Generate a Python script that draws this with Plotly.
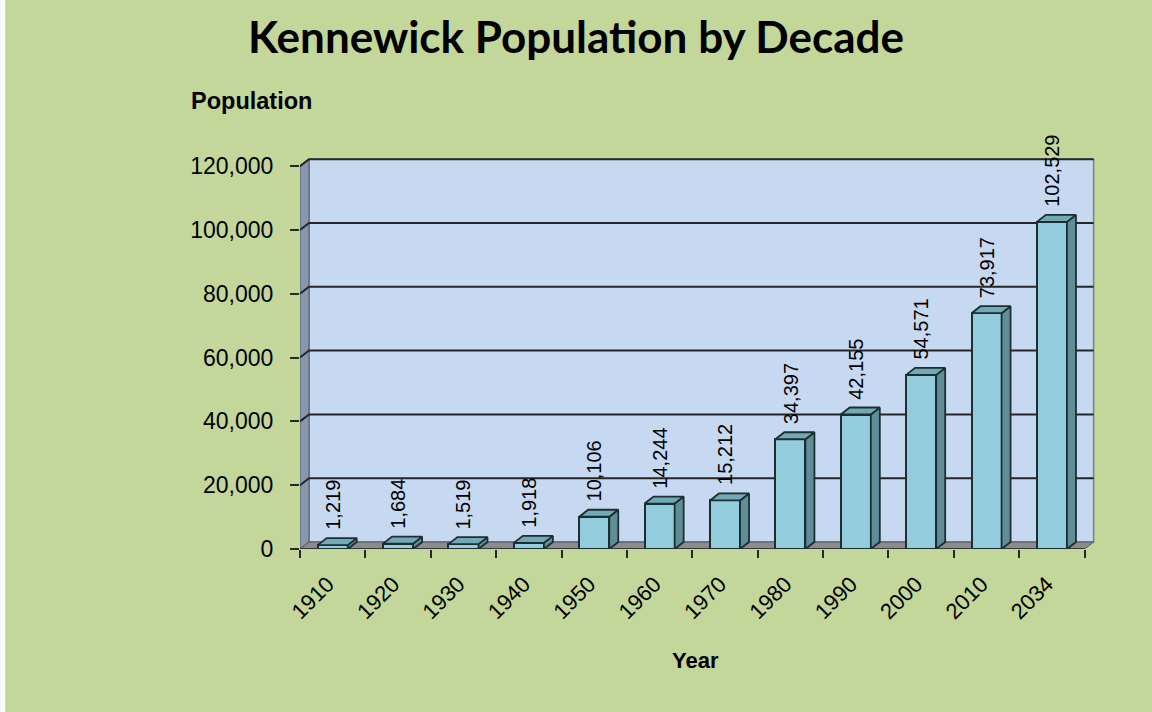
import plotly.graph_objects as go

# ---------------- data ----------------
years = ["1910", "1920", "1930", "1940", "1950", "1960", "1970",
         "1980", "1990", "2000", "2010", "2034"]
population = [1219, 1684, 1519, 1918, 10106, 14244, 15212,
              34397, 42155, 54571, 73917, 102529]
y_tick_vals = [0, 20000, 40000, 60000, 80000, 100000, 120000]
y_tick_text = ["0", "20,000", "40,000", "60,000", "80,000", "100,000", "120,000"]

title_text = "Kennewick Population by Decade"
y_title = "Population"
x_title = "Year"

# ---------------- layout geometry ----------------
W, H = 1152, 712
PX_PER_CAT = 65.42
L_MARGIN, T_MARGIN, B_MARGIN = 300, 147, 163
X_RANGE = [-0.5, 11.72]
Y_RANGE = [0, 126000]
PW = (X_RANGE[1] - X_RANGE[0]) * PX_PER_CAT
R_MARGIN = W - L_MARGIN - PW
PH = H - T_MARGIN - B_MARGIN
DX = 9 / PX_PER_CAT                               # depth offset (x, data units)
DY = 7 * (Y_RANGE[1] - Y_RANGE[0]) / PH           # depth offset (y, data units)
BW = 0.46                                          # bar width
n = len(years)
xi = list(range(n))
x_lo, x_hi = -0.5, n - 0.5
top = y_tick_vals[-1]


def px_to_paper(px, py):
    return (px - L_MARGIN) / PW, (H - B_MARGIN - py) / PH


def poly(xs, ys):
    return "M " + " L ".join(f"{a},{b}" for a, b in zip(xs, ys)) + " Z"


BG = "#c4d79b"
WALL = "#c6d9f0"
SIDEWALL = "#8797ad"
FLOOR = "#8c8c8c"
BAR_FRONT = "#93cddd"
BAR_TOP = "#72a9b6"
BAR_SIDE = "#5f8e97"
EDGE = "#1c2e32"
DARK = "#262626"

shapes = []
# back wall
shapes.append(dict(type="path", xref="x", yref="y", layer="below",
                   path=poly([x_lo + DX, x_hi + DX, x_hi + DX, x_lo + DX],
                             [DY, DY, top + DY, top + DY]),
                   fillcolor=WALL, line=dict(color="#7f7f7f", width=1.5)))
# left side wall
shapes.append(dict(type="path", xref="x", yref="y", layer="below",
                   path=poly([x_lo, x_lo, x_lo + DX, x_lo + DX],
                             [0, top, top + DY, DY]),
                   fillcolor=SIDEWALL, line=dict(color="#4d5866", width=1)))
# floor
shapes.append(dict(type="path", xref="x", yref="y", layer="below",
                   path=poly([x_lo, x_hi, x_hi + DX, x_lo + DX], [0, 0, DY, DY]),
                   fillcolor=FLOOR, line=dict(color="#555555", width=1)))
# gridlines (left-wall diagonal + back wall)
for v in y_tick_vals[1:]:
    shapes.append(dict(type="path", xref="x", yref="y", layer="below",
                       path=f"M {x_lo},{v} L {x_lo + DX},{v + DY} L {x_hi + DX},{v + DY}",
                       line=dict(color=DARK, width=2)))
# front axis line
shapes.append(dict(type="line", xref="x", yref="y", layer="below",
                   x0=x_lo, x1=x_hi, y0=0, y1=0, line=dict(color=DARK, width=1.5)))

fig = go.Figure()

# bars (front faces)
fig.add_trace(go.Bar(x=xi, y=population, width=BW,
                     marker=dict(color=BAR_FRONT, line=dict(color=EDGE, width=2)),
                     hoverinfo="skip", showlegend=False))

# top and side faces
tx, ty, sx, sy = [], [], [], []
for i, v in zip(xi, population):
    a, b = i - BW / 2, i + BW / 2
    tx += [a, b, b + DX, a + DX, a, None]
    ty += [v, v, v + DY, v + DY, v, None]
    sx += [b, b, b + DX, b + DX, b, None]
    sy += [0, v, v + DY, DY, 0, None]
fig.add_trace(go.Scatter(x=sx, y=sy, fill="toself", fillcolor=BAR_SIDE, mode="lines",
                         line=dict(color=EDGE, width=1.8),
                         hoverinfo="skip", showlegend=False))
fig.add_trace(go.Scatter(x=tx, y=ty, fill="toself", fillcolor=BAR_TOP, mode="lines",
                         line=dict(color=EDGE, width=1.8),
                         hoverinfo="skip", showlegend=False))

# category carrier for the year axis
fig.add_trace(go.Scatter(x=years, y=[0] * n, xaxis="x2", mode="markers",
                         marker=dict(opacity=0), hoverinfo="skip", showlegend=False))

# data labels
annotations = []
for i, v in zip(xi, population):
    annotations.append(dict(x=i, y=v + DY, xref="x", yref="y", text=f"{v:,}",
                            textangle=-90, showarrow=False, xanchor="center",
                            yanchor="bottom", yshift=6,
                            font=dict(family="Liberation Sans, Arial", size=20, color="black")))

px_, py_ = px_to_paper(251, 101)
annotations.append(dict(x=px_, y=py_, xref="paper", yref="paper", text=f"<b>{y_title}</b>",
                        showarrow=False, xanchor="center", yanchor="middle",
                        font=dict(family="Liberation Sans, Arial", size=23.5, color="black")))
px_, py_ = px_to_paper(696, 660)
annotations.append(dict(x=px_, y=py_, xref="paper", yref="paper", text=f"<b>{x_title}</b>",
                        showarrow=False, xanchor="center", yanchor="middle",
                        font=dict(family="Liberation Sans, Arial", size=22, color="black")))

# white strip at left edge
sx0, sy0 = px_to_paper(0, H)
sx1, sy1 = px_to_paper(5, 0)
shapes.append(dict(type="rect", xref="paper", yref="paper", x0=sx0, x1=sx1, y0=sy0, y1=sy1,
                   fillcolor="white", line=dict(width=0), layer="above"))

fig.update_layout(
    width=W, height=H,
    margin=dict(l=L_MARGIN, r=R_MARGIN, t=T_MARGIN, b=B_MARGIN, pad=0),
    paper_bgcolor=BG, plot_bgcolor="rgba(0,0,0,0)",
    title=dict(text=f"<b>{title_text}</b>", x=0.5, xref="container", xanchor="center",
               y=1 - 38 / H, yref="container", yanchor="middle",
               font=dict(family="Lato, Liberation Sans, Arial", size=44, color="black")),
    xaxis=dict(range=X_RANGE, visible=False, showgrid=False, zeroline=False),
    xaxis2=dict(type="category", overlaying="x", anchor="y", side="bottom",
                range=X_RANGE, categoryorder="array", categoryarray=years,
                tickson="boundaries", ticks="outside", ticklen=8, tickcolor=DARK,
                tickwidth=1.5, tickangle=-45, showline=False, showgrid=False,
                zeroline=False, ticklabelstandoff=17, ticklabelshift=-5,
                tickfont=dict(family="Liberation Sans, Arial", size=22, color="black")),
    yaxis=dict(range=Y_RANGE, tickvals=y_tick_vals, ticktext=y_tick_text,
               ticks="outside", ticklen=9, tickcolor=DARK, tickwidth=1.5,
               showgrid=False, zeroline=False, showline=False, ticklabelstandoff=12,
               tickfont=dict(family="Liberation Sans, Arial", size=23, color="black")),
    annotations=annotations,
    shapes=shapes,
    bargap=0,
)

fig.write_html("out.html", config={"displayModeBar": False},
               post_script="document.body.style.margin='0';")
